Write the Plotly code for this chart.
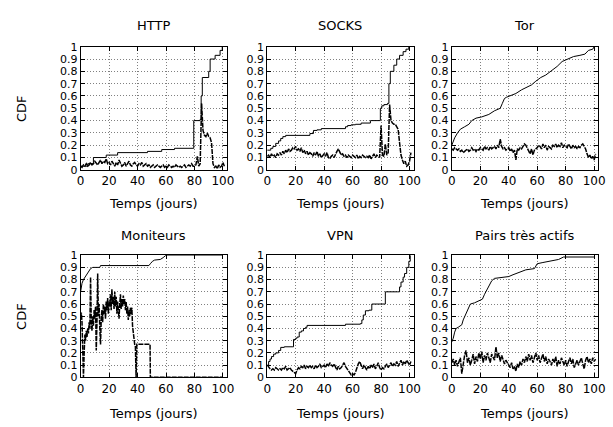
import plotly.graph_objects as go

W, H = 613, 427

# ---------------- data ----------------
panel_titles = ["HTTP", "SOCKS", "Tor", "Moniteurs", "VPN", "Pairs très actifs"]
x_ticks = [0, 20, 40, 60, 80, 100]
y_ticks = [0, 0.1, 0.2, 0.3, 0.4, 0.5, 0.6, 0.7, 0.8, 0.9, 1]
y_ticktext = ["0", "0.1", "0.2", "0.3", "0.4", "0.5", "0.6", "0.7", "0.8", "0.9", "1"]

days = list(range(102))  # sampling days of the noisy (dashed) series

http_cdf_x = [0, 5, 9, 18, 26, 47, 57, 66, 79.5, 84, 84.7, 85.5, 90, 91, 94.5, 98, 99.5, 100]
http_cdf_y = [0.03, 0.05, 0.10, 0.12, 0.14, 0.15, 0.165, 0.175, 0.40, 0.41, 0.60, 0.75, 0.80, 0.90, 0.93, 0.97, 1.0, 1.0]
http_noise = [0.03, 0.02, 0.04, 0.03, 0.05, 0.03, 0.04, 0.06, 0.04, 0.05,
              0.07, 0.05, 0.04, 0.06, 0.08, 0.05, 0.07, 0.06, 0.09, 0.05,
              0.06, 0.04, 0.07, 0.05, 0.03, 0.06, 0.04, 0.08, 0.05, 0.03,
              0.04, 0.06, 0.03, 0.05, 0.07, 0.04, 0.03, 0.05, 0.06, 0.04,
              0.03, 0.05, 0.04, 0.06, 0.03, 0.04, 0.05, 0.03, 0.04, 0.02,
              0.03, 0.04, 0.02, 0.03, 0.04, 0.03, 0.02, 0.03, 0.04, 0.02,
              0.03, 0.02, 0.04, 0.03, 0.02, 0.03, 0.02, 0.04, 0.03, 0.02,
              0.03, 0.02, 0.03, 0.04, 0.02, 0.03, 0.04, 0.03, 0.05, 0.03,
              0.03, 0.04, 0.11, 0.03, 0.05, 0.54, 0.32, 0.28, 0.27, 0.30,
              0.27, 0.26, 0.22, 0.05, 0.02, 0.03, 0.01, 0.04, 0.02, 0.03,
              0.06, 0.03]

socks_cdf_x = [0, 2.5, 4, 6, 8, 9.5, 11, 13, 30, 32.5, 35, 38, 55, 56.5, 59, 62, 66, 72.5,
               79.5, 80.5, 82, 84.5, 85.5, 86.5, 89, 91, 93, 95.5, 97.5, 99.5, 100]
socks_cdf_y = [0.16, 0.175, 0.19, 0.215, 0.235, 0.255, 0.27, 0.28, 0.295, 0.32, 0.325, 0.335,
               0.35, 0.36, 0.366, 0.37, 0.38, 0.40, 0.50, 0.52, 0.53, 0.54, 0.70, 0.80, 0.85,
               0.90, 0.93, 0.96, 0.98, 1.0, 1.0]
socks_noise = [0.11, 0.12, 0.10, 0.13, 0.11, 0.12, 0.10, 0.13, 0.12, 0.14,
               0.12, 0.15, 0.13, 0.16, 0.14, 0.17, 0.15, 0.16, 0.18, 0.17,
               0.19, 0.16, 0.17, 0.15, 0.18, 0.14, 0.16, 0.13, 0.15, 0.12,
               0.14, 0.13, 0.11, 0.14, 0.12, 0.15, 0.11, 0.13, 0.10, 0.12,
               0.13, 0.11, 0.14, 0.10, 0.09, 0.11, 0.12, 0.10, 0.13, 0.15,
               0.17, 0.14, 0.12, 0.13, 0.11, 0.12, 0.10, 0.12, 0.11, 0.10,
               0.12, 0.11, 0.10, 0.12, 0.09, 0.11, 0.10, 0.12, 0.11, 0.10,
               0.11, 0.10, 0.12, 0.09, 0.11, 0.13, 0.10, 0.12, 0.11, 0.10,
               0.36, 0.12, 0.11, 0.21, 0.12, 0.14, 0.53, 0.40, 0.38, 0.37,
               0.37, 0.35, 0.33, 0.22, 0.12, 0.08, 0.05, 0.07, 0.03, 0.04,
               0.07, 0.14]

tor_cdf_x = [0, 1, 2, 4, 6, 9, 12, 14, 17, 21, 26, 30, 34, 35.5, 37, 38.5, 41, 45, 49, 52, 56,
             59, 62.5, 66, 69.5, 72, 74, 77.5, 81, 85.5, 90, 93.5, 96, 99, 100]
tor_cdf_y = [0.20, 0.23, 0.26, 0.30, 0.33, 0.35, 0.37, 0.40, 0.42, 0.43, 0.45, 0.48, 0.50, 0.54,
             0.58, 0.59, 0.60, 0.62, 0.65, 0.67, 0.69, 0.72, 0.75, 0.77, 0.80, 0.82, 0.84, 0.88,
             0.90, 0.92, 0.93, 0.94, 0.97, 0.98, 1.0]
tor_noise = [0.17, 0.16, 0.18, 0.17, 0.16, 0.17, 0.15, 0.16, 0.14, 0.15,
             0.16, 0.17, 0.15, 0.16, 0.18, 0.16, 0.17, 0.15, 0.17, 0.16,
             0.18, 0.17, 0.16, 0.19, 0.17, 0.18, 0.16, 0.19, 0.17, 0.18,
             0.19, 0.17, 0.20, 0.18, 0.25, 0.19, 0.17, 0.18, 0.16, 0.17,
             0.18, 0.15, 0.17, 0.14, 0.16, 0.08, 0.17, 0.16, 0.18, 0.17,
             0.19, 0.21, 0.20, 0.18, 0.15, 0.13, 0.17, 0.12, 0.16, 0.17,
             0.18, 0.20, 0.19, 0.17, 0.21, 0.18, 0.20, 0.16, 0.19, 0.18,
             0.17, 0.20, 0.19, 0.21, 0.18, 0.20, 0.19, 0.22, 0.18, 0.20,
             0.19, 0.18, 0.21, 0.19, 0.17, 0.20, 0.18, 0.19, 0.17, 0.19,
             0.18, 0.20, 0.21, 0.19, 0.17, 0.13, 0.10, 0.12, 0.09, 0.11,
             0.08, 0.13]

mon_cdf_x = [0, 0.5, 1, 2, 3, 4, 5, 6, 7, 8.5, 13.5, 14, 48, 49, 50.5, 52, 56, 58, 60, 100]
mon_cdf_y = [0.70, 0.74, 0.77, 0.80, 0.82, 0.84, 0.86, 0.875, 0.89, 0.90, 0.90, 0.915, 0.915,
             0.93, 0.95, 0.96, 0.965, 0.98, 1.0, 1.0]
mon_noise_x = [0, 0.5, 1, 1.5, 2, 2.5, 3, 3.5, 4, 4.5, 5, 5.5, 6, 6.5, 7, 7.5, 8, 8.5, 9, 9.5,
               10, 10.5, 11, 11.5, 12, 12.5, 13, 13.5, 14, 14.5, 15, 15.5, 16, 16.5, 17, 17.5,
               18, 18.5, 19, 19.5, 20, 20.5, 21, 21.5, 22, 22.5, 23, 23.5, 24, 24.5, 25, 25.5,
               26, 26.5, 27, 27.5, 28, 28.5, 29, 29.5, 30, 30.5, 31, 31.5, 32, 32.5, 33, 33.5,
               34, 34.5, 35, 35.5, 36, 36.5, 37, 37.5, 38, 38.5, 39, 39.5, 48.8, 49, 100]
mon_noise_y = [0.50, 0.53, 0.45, 0.30, 0.00, 0.20, 0.35, 0.30, 0.38, 0.33, 0.40, 0.36, 0.45, 0.40,
               0.82, 0.45, 0.38, 0.50, 0.42, 0.55, 0.48, 0.58, 0.22, 0.45, 0.85, 0.50, 0.60, 0.40,
               0.27, 0.48, 0.55, 0.45, 0.60, 0.52, 0.58, 0.48, 0.62, 0.55, 0.65, 0.52, 0.62, 0.58,
               0.68, 0.55, 0.72, 0.60, 0.66, 0.56, 0.70, 0.58, 0.66, 0.52, 0.62, 0.55, 0.48, 0.60,
               0.68, 0.56, 0.64, 0.58, 0.67, 0.60, 0.64, 0.55, 0.62, 0.52, 0.58, 0.47, 0.55, 0.50,
               0.57, 0.52, 0.57, 0.42, 0.35, 0.30, 0.27, 0.25, 0.00, 0.27, 0.27, 0.00, 0.00]

vpn_cdf_x = [0, 1, 2, 3, 4.5, 6, 8, 9.5, 12, 17.5, 18.5, 20, 21, 22.5, 24, 25.5, 27, 28, 55,
             65.5, 66.5, 67.5, 69, 71.5, 73.5, 82.5, 83, 91.5, 93, 94, 95.5, 96.5, 98, 99.5, 100.5]
vpn_cdf_y = [0.10, 0.13, 0.15, 0.17, 0.19, 0.20, 0.22, 0.245, 0.25, 0.25, 0.31, 0.32, 0.33, 0.37,
             0.38, 0.40, 0.41, 0.425, 0.435, 0.44, 0.47, 0.51, 0.545, 0.55, 0.60, 0.60, 0.70,
             0.70, 0.74, 0.78, 0.82, 0.85, 0.90, 0.95, 1.0]
vpn_noise = [0.10, 0.08, 0.07, 0.06, 0.07, 0.06, 0.08, 0.07, 0.06, 0.07,
             0.06, 0.08, 0.07, 0.09, 0.06, 0.07, 0.08, 0.06, 0.05, 0.04,
             0.03, 0.06, 0.08, 0.07, 0.09, 0.08, 0.10, 0.07, 0.09, 0.08,
             0.10, 0.08, 0.09, 0.07, 0.10, 0.08, 0.09, 0.11, 0.08, 0.09,
             0.10, 0.08, 0.11, 0.09, 0.12, 0.10, 0.09, 0.11, 0.08, 0.06,
             0.09, 0.07, 0.08, 0.10, 0.12, 0.09, 0.07, 0.05, 0.03, 0.02,
             0.03, 0.02, 0.04, 0.08, 0.11, 0.13, 0.09, 0.07, 0.10, 0.08,
             0.06, 0.09, 0.07, 0.10, 0.08, 0.11, 0.07, 0.09, 0.12, 0.08,
             0.06, 0.08, 0.07, 0.09, 0.11, 0.08, 0.10, 0.12, 0.09, 0.11,
             0.10, 0.13, 0.09, 0.12, 0.14, 0.10, 0.13, 0.11, 0.14, 0.12,
             0.10, 0.13]

pairs_cdf_x = [0, 1, 2, 3, 4.5, 7, 8, 9.5, 11, 13, 16, 19, 21.5, 23, 25.5, 28, 30, 35, 40, 43,
               48, 52, 58, 60, 64, 69, 72, 75, 78.5, 100]
pairs_cdf_y = [0.29, 0.32, 0.37, 0.40, 0.41, 0.43, 0.47, 0.51, 0.56, 0.60, 0.61, 0.63, 0.64,
               0.68, 0.73, 0.79, 0.81, 0.82, 0.825, 0.84, 0.865, 0.88, 0.89, 0.93, 0.94, 0.95,
               0.955, 0.965, 0.985, 0.985]
pairs_noise = [0.12, 0.15, 0.10, 0.14, 0.09, 0.13, 0.16, 0.03, 0.12, 0.18,
               0.22, 0.12, 0.16, 0.10, 0.14, 0.19, 0.11, 0.17, 0.13, 0.20,
               0.15, 0.21, 0.12, 0.18, 0.14, 0.20, 0.16, 0.12, 0.19, 0.17,
               0.14, 0.25, 0.16, 0.20, 0.13, 0.18, 0.15, 0.11, 0.14, 0.12,
               0.10, 0.08, 0.12, 0.07, 0.09, 0.05, 0.11, 0.08, 0.13, 0.10,
               0.15, 0.12, 0.17, 0.13, 0.19, 0.14, 0.18, 0.12, 0.16, 0.20,
               0.14, 0.18, 0.12, 0.16, 0.19, 0.13, 0.17, 0.11, 0.15, 0.13,
               0.10, 0.15, 0.12, 0.17, 0.09, 0.14, 0.11, 0.16, 0.12, 0.10,
               0.14, 0.09, 0.13, 0.16, 0.11, 0.15, 0.08, 0.12, 0.14, 0.10,
               0.13, 0.16, 0.11, 0.07, 0.14, 0.17, 0.12, 0.15, 0.11, 0.16,
               0.13, 0.15]

panels = [
    (http_cdf_x, http_cdf_y, "hv", days, http_noise),
    (socks_cdf_x, socks_cdf_y, "hv", days, socks_noise),
    (tor_cdf_x, tor_cdf_y, "linear", days, tor_noise),
    (mon_cdf_x, mon_cdf_y, "linear", mon_noise_x, mon_noise_y),
    (vpn_cdf_x, vpn_cdf_y, "hv", days, vpn_noise),
    (pairs_cdf_x, pairs_cdf_y, "linear", days, pairs_noise),
]

# ---------------- layout geometry (pixels) ----------------
col_px = [(78, 227), (268, 417), (456, 605)]
row_px = [(42, 169), (257, 383)]
title_y_px = [20, 237]
xlabel_y_px = [204, 420]

FONT = "DejaVu Sans"
fig = go.Figure()
layout = dict(
    width=W, height=H, autosize=False,
    margin=dict(l=0, r=0, t=0, b=0),
    paper_bgcolor="white", plot_bgcolor="white",
    showlegend=False,
    font=dict(family=FONT, size=13, color="black"),
)
annotations = []

for i, (cx, cy, shape, nx, ny) in enumerate(panels):
    r, c = divmod(i, 3)
    n = i + 1
    xa = "x" if n == 1 else f"x{n}"
    ya = "y" if n == 1 else f"y{n}"
    x0, x1 = col_px[c]
    y0, y1 = row_px[r]
    common = dict(
        ticks="inside", ticklen=4, tickwidth=1, tickcolor="black",
        showline=True, linecolor="black", linewidth=1, mirror="ticks",
        showgrid=True, gridcolor="#808080", gridwidth=1, griddash="1px,2px",
        zeroline=False,
    )
    layout["xaxis" if n == 1 else f"xaxis{n}"] = dict(
        domain=[x0 / W, x1 / W], range=[0, 102.8], anchor=ya,
        tickmode="array", tickvals=x_ticks,
        tickfont=dict(family=FONT, size=12, color="black"), **common)
    layout["yaxis" if n == 1 else f"yaxis{n}"] = dict(
        domain=[1 - y1 / H, 1 - y0 / H], range=[0, 1], anchor=xa,
        tickmode="array", tickvals=y_ticks, ticktext=y_ticktext,
        tickfont=dict(family=FONT, size=11, color="black"), **common)

    fig.add_trace(go.Scatter(x=nx, y=ny, mode="lines", xaxis=xa, yaxis=ya,
                             line=dict(color="black", width=1.5, dash="5px,1px")))
    fig.add_trace(go.Scatter(x=cx, y=cy, mode="lines", xaxis=xa, yaxis=ya,
                             line=dict(color="black", width=1, shape=shape)))

    annotations.append(dict(text=panel_titles[i], x=(x0 + x1) / 2 / W, y=1 - title_y_px[r] / H,
                            xref="paper", yref="paper", showarrow=False,
                            xanchor="center", yanchor="middle",
                            font=dict(family=FONT, size=13, color="black")))
    annotations.append(dict(text="Temps (jours)", x=(x0 + x1) / 2 / W, y=1 - xlabel_y_px[r] / H,
                            xref="paper", yref="paper", showarrow=False,
                            xanchor="center", yanchor="middle",
                            font=dict(family=FONT, size=13, color="black")))
    if c == 0:
        annotations.append(dict(text="CDF", x=18 / W, y=1 - (y0 + y1) / 2 / H,
                                xref="paper", yref="paper", showarrow=False, textangle=-90,
                                xanchor="center", yanchor="middle",
                                font=dict(family=FONT, size=13, color="black")))

layout["annotations"] = annotations
fig.update_layout(**layout)
fig.write_html("out.html", config={"displayModeBar": False},
               post_script="document.body.style.margin='0';")
